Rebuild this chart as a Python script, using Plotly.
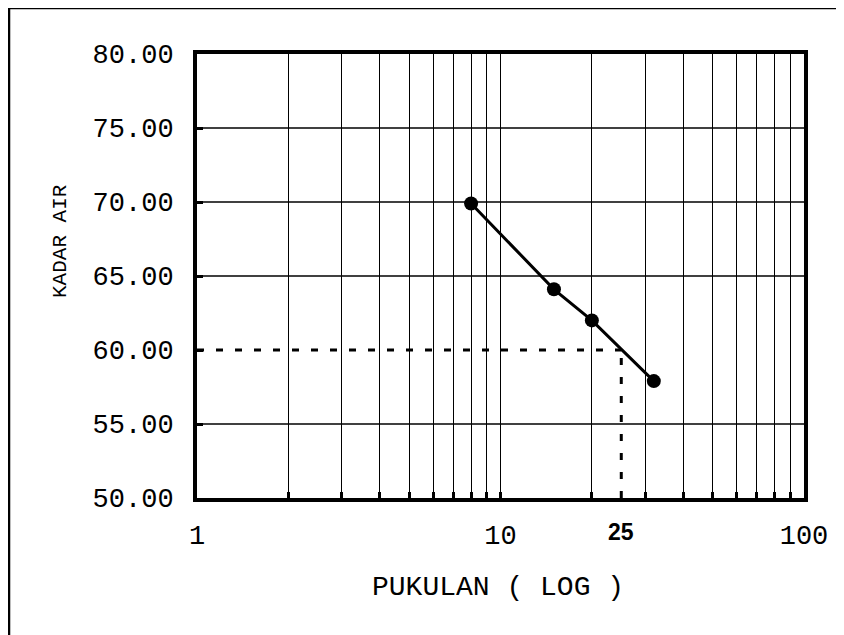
import math
import plotly.graph_objects as go

# ---- data ----
pukulan = [8, 15, 20, 32]
kadar_air = [69.9, 64.1, 62.0, 57.9]

x_grid_vals = [1, 2, 3, 4, 5, 6, 7, 8, 9, 10, 20, 30, 40, 50, 60, 70, 80, 90, 100]
x_tick_labels = {1: "1", 10: "10", 100: "100"}
y_tick_vals = [50, 55, 60, 65, 70, 75, 80]
y_grid_vals = [55, 65, 70, 75]

target_kadar = 60
target_pukulan = 25

FONT = "Liberation Mono, Courier New, monospace"

fig = go.Figure()

# horizontal grid lines (drawn as shapes so y=60 can be dashed instead)
for yv in y_grid_vals:
    fig.add_shape(type="line", xref="paper", yref="y", x0=0, x1=1, y0=yv, y1=yv,
                  line=dict(color="black", width=1.3), layer="below")

# dashed reference lines
fig.add_trace(go.Scatter(x=[1, target_pukulan], y=[target_kadar, target_kadar], mode="lines",
                         line=dict(color="black", width=3, dash="7px,12px"),
                         hoverinfo="skip", showlegend=False))
fig.add_trace(go.Scatter(x=[target_pukulan, target_pukulan], y=[50, target_kadar], mode="lines",
                         line=dict(color="black", width=3, dash="7px,12px"),
                         hoverinfo="skip", showlegend=False))

# data
fig.add_trace(go.Scatter(x=pukulan, y=kadar_air, mode="lines+markers",
                         line=dict(color="black", width=3),
                         marker=dict(color="black", size=14),
                         showlegend=False))

fig.update_xaxes(type="log", range=[0, 2],
                 tickvals=x_grid_vals,
                 ticktext=[x_tick_labels.get(v, "") for v in x_grid_vals],
                 showgrid=True, gridcolor="black", gridwidth=1.3,
                 showline=True, linecolor="black", linewidth=4, mirror=True,
                 ticks="inside", ticklen=6, tickwidth=3, tickcolor="black",
                 tickfont=dict(family=FONT, size=27, color="black"),
                 ticklabelstandoff=10,
                 zeroline=False)
fig.update_yaxes(range=[50, 80],
                 tickvals=y_tick_vals,
                 ticktext=["%.2f" % v for v in y_tick_vals],
                 showgrid=False,
                 showline=True, linecolor="black", linewidth=4, mirror=True,
                 ticks="inside", ticklen=6, tickwidth=3, tickcolor="black",
                 tickfont=dict(family=FONT, size=27, color="black"),
                 ticklabelstandoff=14,
                 zeroline=False)

# "25" label
fig.add_annotation(x=math.log10(target_pukulan), y=-0.0766, xref="x", yref="paper",
                   text="<b>25</b>", showarrow=False, yanchor="middle",
                   font=dict(family="Liberation Sans, Arial, sans-serif", size=23, color="black"))
# axis titles
fig.add_annotation(x=0.4967, y=-0.2027, xref="paper", yref="paper",
                   text="PUKULAN ( LOG )", showarrow=False, yanchor="middle", xanchor="center",
                   font=dict(family=FONT, size=28, color="black"))
fig.add_annotation(x=-0.2257, y=0.5788, xref="paper", yref="paper",
                   text="KADAR AIR", showarrow=False, textangle=-90,
                   yanchor="middle", xanchor="center",
                   font=dict(family=FONT, size=21, color="black"))

# outer frame (top and left edges)
fig.add_shape(type="line", xref="paper", yref="paper", x0=-0.3097, x1=1.12, y0=1.1036, y1=1.1036,
              line=dict(color="black", width=2.5))
fig.add_shape(type="line", xref="paper", yref="paper", x0=-0.3097, x1=-0.3097, y0=1.1036, y1=-0.35,
              line=dict(color="black", width=2.5))

fig.update_layout(width=836, height=627,
                  margin=dict(l=189, r=40, t=46, b=137),
                  paper_bgcolor="white", plot_bgcolor="white",
                  showlegend=False)

fig.write_html("out.html")
